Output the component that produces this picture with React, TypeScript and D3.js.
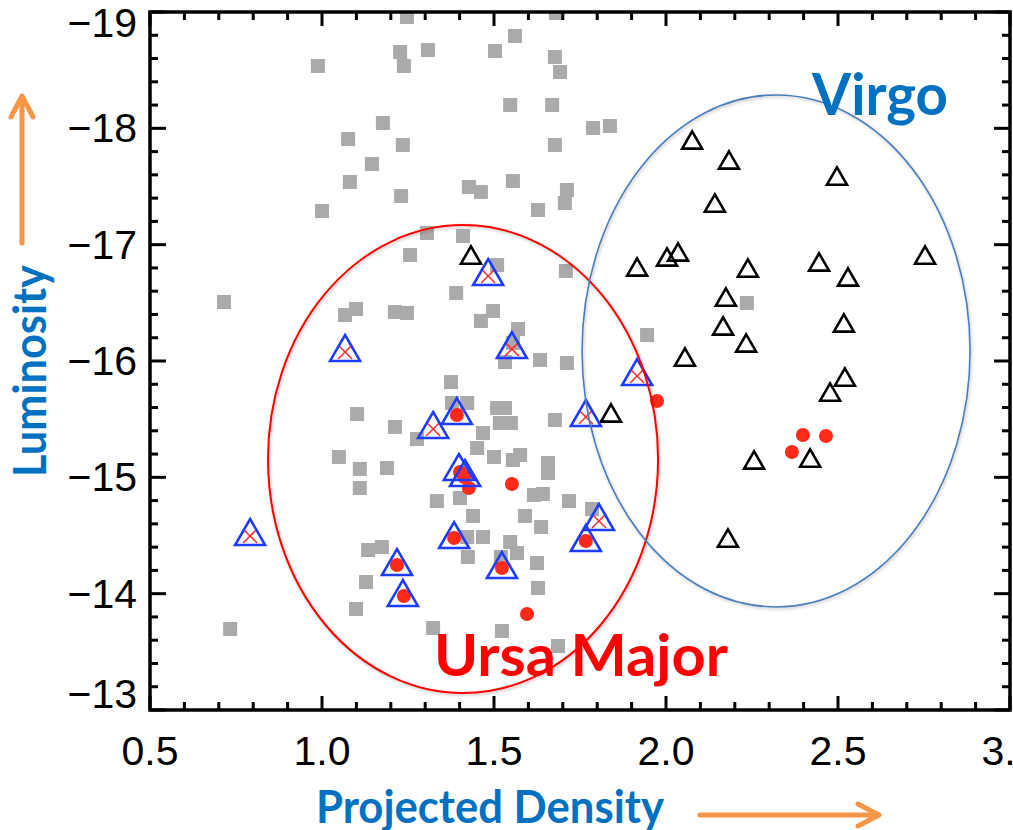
import React from "react";
import * as d3 from "d3";

const X_TICKS = [0.5, 1.0, 1.5, 2.0, 2.5, 3.0];
const Y_TICKS = [-19, -18, -17, -16, -15, -14, -13];
const X_DOMAIN = [0.5, 3.0];
const Y_DOMAIN = [-19, -13];

// grey squares: field galaxies
const fieldSquares: [number, number][] = [
  [1.247, -18.957], [1.227, -18.656], [1.308, -18.673], [1.238, -18.536], [0.988, -18.536],
  [1.177, -18.046], [1.076, -17.908], [1.235, -17.857], [1.145, -17.693], [1.081, -17.539],
  [1.23, -17.418], [1.0, -17.289], [1.305, -17.1], [1.41, -17.074], [1.68, -18.991],
  [1.561, -18.794], [1.503, -18.665], [1.677, -18.613], [1.692, -18.484], [1.547, -18.201],
  [1.669, -18.201], [1.788, -18.003], [1.837, -18.02], [1.677, -17.857], [1.427, -17.496],
  [1.462, -17.453], [1.555, -17.547], [1.712, -17.47], [1.706, -17.358], [1.628, -17.298],
  [1.256, -16.911], [1.509, -16.825], [1.709, -16.774], [1.39, -16.584], [1.067, -16.395],
  [1.099, -16.447], [1.212, -16.421], [1.247, -16.413], [1.497, -16.43], [1.462, -16.344],
  [1.57, -16.275], [1.555, -16.155], [1.634, -16.009], [1.712, -15.983], [1.532, -15.991],
  [1.375, -15.819], [1.378, -15.639], [1.422, -15.639], [1.102, -15.544], [1.212, -15.433],
  [1.276, -15.329], [1.509, -15.596], [1.532, -15.596], [1.517, -15.467], [1.549, -15.467],
  [1.468, -15.381], [1.451, -15.252], [1.5, -15.175], [1.555, -15.149], [1.576, -15.192],
  [1.657, -15.123], [1.657, -15.037], [1.677, -15.493], [1.049, -15.175], [1.11, -15.072],
  [1.189, -15.08], [1.11, -14.908], [1.334, -14.796], [1.401, -14.822], [1.439, -14.668],
  [1.616, -14.848], [1.642, -14.857], [1.718, -14.796], [1.59, -14.668], [1.785, -14.728],
  [1.637, -14.573], [1.134, -14.375], [1.174, -14.401], [1.422, -14.487], [1.468, -14.487],
  [1.547, -14.444], [1.567, -14.349], [1.424, -14.315], [1.52, -14.315], [1.625, -14.263],
  [1.128, -14.1], [1.628, -14.049], [1.099, -13.868], [1.323, -13.705], [1.523, -13.679],
  [1.686, -13.55], [2.235, -16.499], [1.945, -16.223], [0.715, -16.507], [0.733, -13.696],
];

// blue triangles with red cross
const umCrossTriangles: [number, number][] = [
  [0.791, -14.53], [1.067, -16.112], [1.483, -16.765], [1.552, -16.137],
  [1.323, -15.45], [1.767, -15.553], [1.916, -15.905], [1.805, -14.659],
];

// blue triangles with red dot
const umDotTriangles: [number, number][] = [
  [1.392, -15.57], [1.398, -15.089], [1.416, -15.037], [1.384, -14.504],
  [1.218, -14.272], [1.235, -14.006], [1.523, -14.246], [1.767, -14.478],
];

// red filled dots
const redDots: [number, number][] = [
  [1.392, -15.536], [1.401, -15.046], [1.413, -15.003], [1.427, -14.908], [1.384, -14.478],
  [1.218, -14.246], [1.238, -13.98], [1.523, -14.22], [1.767, -14.453], [1.552, -14.943],
  [1.596, -13.825], [1.974, -15.656], [2.398, -15.364], [2.465, -15.355], [2.366, -15.218],
];

// black open triangles (Virgo)
const virgoTriangles: [number, number][] = [
  [2.076, -17.9], [2.183, -17.728], [2.497, -17.59], [2.142, -17.358], [1.916, -16.808],
  [2.003, -16.894], [2.035, -16.937], [2.238, -16.799], [2.445, -16.851], [2.529, -16.722],
  [2.753, -16.911], [2.174, -16.55], [2.166, -16.301], [2.233, -16.155], [2.055, -16.034],
  [2.517, -16.327], [2.52, -15.862], [2.477, -15.733], [1.84, -15.553], [2.256, -15.149],
  [2.419, -15.166], [2.18, -14.478], [1.433, -16.911],
];

// group ellipses (data units)
const ellipseNames = ["Ursa Major", "Virgo"];
const ellipseCenters: [number, number][] = [[1.41, -15.157], [2.32, -16.086]];
const ellipseRadii: [number, number][] = [[0.567, 2.011], [0.564, 2.201]];
const ellipseColors = ["#ff0000", "#4a7ebb"];

const LEFT = 150, RIGHT = 1010, TOP = 12, BOTTOM = 710;

function triPath(cx: number, cy: number, w: number) {
  const h = w * 0.866;
  return `M${cx},${cy - h / 2}L${cx + w / 2},${cy + h / 2}L${cx - w / 2},${cy + h / 2}Z`;
}

export default function App() {
  const x = d3.scaleLinear().domain(X_DOMAIN).range([LEFT, RIGHT]);
  const y = d3.scaleLinear().domain(Y_DOMAIN).range([TOP, BOTTOM]);
  const xMinor = d3.range(0, 26).map((i) => 0.5 + i * 0.1);
  const yMinor = d3.range(0, 31).map((i) => -19 + i * 0.2);
  const isMajor = (v: number, ticks: number[]) => ticks.some((t) => Math.abs(t - v) < 1e-6);
  const orange = "#f79646";
  const sq = 14;

  return (
    <svg
      width={1013}
      height={830}
      style={{ position: "absolute", left: 0, top: 0, display: "block", background: "#fff" }}
    >
      <defs>
        <clipPath id="plot">
          <rect x={LEFT} y={TOP} width={RIGHT - LEFT} height={BOTTOM - TOP} />
        </clipPath>
        <filter id="shadow" x="-10%" y="-10%" width="120%" height="120%">
          <feDropShadow dx="1" dy="1.5" stdDeviation="1.5" floodColor="#000" floodOpacity="0.25" />
        </filter>
      </defs>
      <rect x={0} y={0} width={1013} height={830} fill="#fff" />

      <g clipPath="url(#plot)">
        {fieldSquares.map(([a, b], i) => (
          <rect key={"s" + i} x={x(a) - sq / 2} y={y(b) - sq / 2} width={sq} height={sq} fill="#aaaaaa" />
        ))}
        {redDots.map(([a, b], i) => (
          <circle key={"d" + i} cx={x(a)} cy={y(b)} r={7} fill="#ff2a1a" />
        ))}
        {virgoTriangles.map(([a, b], i) => (
          <path key={"v" + i} d={triPath(x(a), y(b), 20)} fill="none" stroke="#000" strokeWidth={2.6} strokeLinejoin="miter" />
        ))}
        {umCrossTriangles.map(([a, b], i) => {
          const cx = x(a), cy = y(b) + 4;
          return (
            <g key={"c" + i}>
              <line x1={cx - 7} y1={cy - 7} x2={cx + 7} y2={cy + 7} stroke="#ff3030" strokeWidth={1.6} />
              <line x1={cx + 7} y1={cy - 7} x2={cx - 7} y2={cy + 7} stroke="#ff3030" strokeWidth={1.6} />
              <path d={triPath(x(a), y(b), 30)} fill="none" stroke="#1e3cff" strokeWidth={2.6} />
            </g>
          );
        })}
        {umDotTriangles.map(([a, b], i) => (
          <path key={"t" + i} d={triPath(x(a), y(b), 30)} fill="none" stroke="#1e3cff" strokeWidth={2.6} />
        ))}
      </g>

      {/* frame */}
      <rect x={LEFT} y={TOP} width={RIGHT - LEFT} height={BOTTOM - TOP} fill="none" stroke="#000" strokeWidth={3.5} />
      {xMinor.map((v, i) => {
        const len = isMajor(v, X_TICKS) ? 14 : 8;
        return (
          <g key={"xt" + i} stroke="#000" strokeWidth={3}>
            <line x1={x(v)} x2={x(v)} y1={BOTTOM} y2={BOTTOM - len} />
            <line x1={x(v)} x2={x(v)} y1={TOP} y2={TOP + len} />
          </g>
        );
      })}
      {yMinor.map((v, i) => {
        const len = isMajor(v, Y_TICKS) ? 16 : 8;
        return (
          <g key={"yt" + i} stroke="#000" strokeWidth={3}>
            <line x1={LEFT} x2={LEFT + len} y1={y(v)} y2={y(v)} />
            <line x1={RIGHT} x2={RIGHT - len} y1={y(v)} y2={y(v)} />
          </g>
        );
      })}
      {X_TICKS.map((v) => (
        <text key={"xl" + v} x={x(v)} y={765} textAnchor="middle" fontFamily="Liberation Sans, Arial, sans-serif" fontSize={41} fill="#000">
          {v.toFixed(1)}
        </text>
      ))}
      {Y_TICKS.map((v) => (
        <text key={"yl" + v} x={137} y={Math.min(708, Math.max(37, y(v) + 14))} textAnchor="end" fontFamily="Liberation Sans, Arial, sans-serif" fontSize={41} fill="#000">
          {"\u2212" + Math.abs(v)}
        </text>
      ))}

      {/* ellipses */}
      {ellipseCenters.map(([a, b], i) => (
        <ellipse
          key={"e" + ellipseNames[i]}
          cx={x(a)}
          cy={y(b)}
          rx={x(a + ellipseRadii[i][0]) - x(a)}
          ry={y(b + ellipseRadii[i][1]) - y(b)}
          fill="none"
          stroke={ellipseColors[i]}
          strokeWidth={i === 0 ? 2 : 1.6}
          filter="url(#shadow)"
        />
      ))}

      {/* annotations */}
      <text x={812} y={115} fontFamily="Lato, 'Open Sans', sans-serif" fontWeight={700} fontSize={58} fill="#0070c0" textLength={136} lengthAdjust="spacingAndGlyphs">
        Virgo
      </text>
      <text x={434} y={676} fontFamily="Lato, 'Open Sans', sans-serif" fontWeight={700} fontSize={58} fill="#ff0000" textLength={294} lengthAdjust="spacingAndGlyphs">
        Ursa Major
      </text>
      <text x={316} y={823} fontFamily="Lato, 'Open Sans', sans-serif" fontWeight={700} fontSize={45} fill="#0070c0" textLength={348} lengthAdjust="spacingAndGlyphs">
        Projected Density
      </text>
      <text transform="translate(46,371) rotate(-90)" textAnchor="middle" fontFamily="Lato, 'Open Sans', sans-serif" fontWeight={700} fontSize={45} fill="#0070c0" textLength={212} lengthAdjust="spacingAndGlyphs">
        Luminosity
      </text>

      {/* orange arrows */}
      <g stroke={orange} strokeWidth={5} fill="none" strokeLinecap="round" strokeLinejoin="round">
        <line x1={22} y1={243} x2={22} y2={97} />
        <polyline points="11,117 22,96 33,117" />
        <line x1={700} y1={815} x2={878} y2={815} />
        <polyline points="858,804 879,815 858,826" />
      </g>
    </svg>
  );
}
